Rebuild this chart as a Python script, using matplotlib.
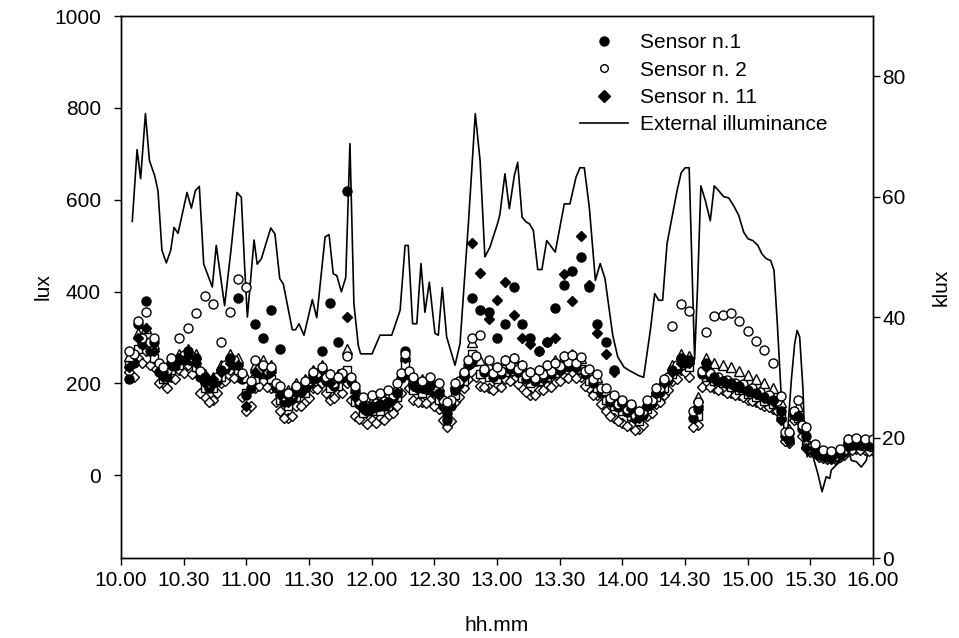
import matplotlib
matplotlib.use("Agg")
import matplotlib.pyplot as plt
from matplotlib.lines import Line2D

plt.rcParams["font.family"] = ["Liberation Sans", "DejaVu Sans"]

# ── data ─────────────────────────────────────────────────────────────────────
# sensor sampling times, minutes after 10.00 (two interleaved logger grids)
minutes = list(range(4, 364, 4))
minutes_b = list(range(6, 362, 4))

sensor_1 = [210, 330, 380, 290, 225, 240, 250, 270, 255, 215, 200, 230, 255, 385, 175, 330,
            300, 360, 275, 175, 185, 190, 210, 270, 375, 290, 618, 185, 150, 150, 155, 160,
            180, 270, 205, 195, 195, 180, 120, 185, 220, 385, 360, 355, 300, 330, 410, 330,
            300, 270, 290, 365, 415, 445, 475, 410, 330, 290, 230, 160, 150, 135, 150, 180,
            205, 230, 255, 250, 145, 245, 215, 205, 200, 195, 185, 180, 170, 165, 140, 80,
            130, 85, 55, 45, 42, 48, 70, 68, 72, 66]

sensor_2 = [270, 335, 355, 300, 235, 255, 300, 321, 354, 390, 372, 290, 356, 427, 409, 250,
            240, 235, 195, 180, 195, 205, 225, 235, 220, 215, 260, 195, 170, 175, 180, 185,
            200, 265, 215, 205, 215, 200, 160, 200, 225, 300, 305, 250, 235, 250, 255, 240,
            225, 230, 240, 245, 260, 262, 258, 232, 220, 190, 175, 165, 155, 140, 165, 190,
            210, 325, 374, 358, 160, 312, 347, 350, 354, 336, 314, 293, 272, 245, 172, 95,
            165, 105, 68, 55, 52, 58, 80, 82, 80, 78]

sensor_11 = [235, 300, 320, 270, 215, 240, 255, 260, 245, 200, 210, 225, 245, 240, 150, 225,
             235, 225, 175, 160, 180, 190, 210, 230, 200, 210, 345, 170, 145, 145, 150, 155,
             180, 255, 195, 190, 195, 175, 135, 185, 215, 505, 440, 340, 382, 421, 348, 300,
             285, 270, 290, 300, 439, 380, 520, 414, 310, 265, 225, 155, 145, 125, 150, 180,
             200, 225, 245, 245, 150, 235, 210, 205, 198, 190, 182, 178, 168, 162, 120, 75,
             130, 60, 50, 42, 38, 44, 62, 66, 68, 64]

# other sensors drawn without a legend entry
sensor_od = [225, 255, 270, 235, 200, 215, 230, 240, 225, 170, 165, 200, 230, 215, 140, 190,
             205, 190, 140, 125, 150, 160, 190, 200, 165, 180, 200, 130, 120, 120, 125, 130,
             150, 220, 165, 160, 165, 145, 105, 160, 190, 245, 195, 190, 195, 210, 210, 190,
             175, 185, 195, 200, 215, 220, 215, 190, 175, 140, 125, 115, 110, 100, 130, 155,
             175, 205, 230, 215, 110, 200, 190, 185, 180, 175, 165, 160, 150, 145, 125, 70,
             120, 60, 48, 38, 35, 40, 55, 58, 55, 52]

sensor_tri = [260, 310, 320, 285, 235, 255, 265, 275, 265, 220, 215, 240, 265, 255, 215, 240,
              250, 240, 195, 185, 200, 210, 230, 240, 220, 220, 275, 190, 160, 165, 170, 175,
              195, 260, 210, 210, 210, 195, 160, 200, 225, 290, 250, 240, 235, 250, 255, 240,
              225, 230, 240, 250, 260, 265, 255, 230, 215, 185, 170, 160, 150, 140, 160, 190,
              210, 240, 265, 260, 170, 255, 245, 240, 235, 228, 218, 210, 200, 190, 160, 100,
              150, 70, 62, 52, 48, 52, 78, 76, 75, 72]

sensor_sq = [240, 275, 285, 255, 210, 230, 240, 250, 235, 190, 190, 215, 240, 230, 180, 210,
             220, 210, 165, 150, 170, 180, 205, 215, 190, 195, 230, 160, 135, 140, 140, 150,
             170, 240, 185, 180, 185, 165, 130, 175, 205, 265, 220, 215, 210, 225, 228, 212,
             200, 205, 215, 222, 235, 238, 232, 205, 190, 165, 150, 140, 130, 118, 145, 170,
             190, 220, 240, 235, 130, 215, 205, 200, 192, 185, 178, 170, 162, 155, 135, 80,
             125, 65, 52, 44, 40, 46, 65, 68, 64, 62]

sensor_oc = [265, 300, 290, 245, 230, 250, 262, 258, 228, 200,
             215, 240, 250, 222, 205, 232, 230, 200, 172, 178,
             192, 205, 222, 215, 202, 222, 215, 162, 152, 158,
             162, 175, 222, 228, 198, 198, 192, 165, 165, 205,
             250, 260, 232, 222, 228, 240, 232, 218, 212, 220,
             228, 238, 246, 244, 228, 210, 190, 168, 155, 145,
             132, 140, 165, 190, 215, 240, 252, 140, 228, 222,
             214, 208, 202, 198, 190, 182, 174, 162, 95, 140,
             110, 60, 50, 44, 43, 55, 72, 70, 70]

sensor_fc = [245, 285, 270, 225, 215, 238, 250, 248, 215, 190,
             205, 232, 240, 210, 190, 222, 220, 190, 160, 168,
             182, 198, 215, 205, 195, 212, 205, 155, 140, 148,
             152, 168, 212, 218, 190, 188, 182, 152, 150, 198,
             240, 248, 225, 215, 220, 232, 225, 210, 205, 212,
             220, 230, 238, 236, 220, 200, 180, 160, 148, 138,
             125, 132, 158, 182, 208, 232, 245, 125, 220, 215,
             206, 200, 195, 190, 182, 175, 166, 155, 85, 132,
             100, 55, 45, 40, 40, 50, 66, 66, 66]

sensor_od2 = [215, 245, 240, 200, 190, 210, 222, 220, 180, 160,
              180, 205, 212, 170, 150, 195, 192, 160, 125, 130,
              150, 168, 188, 180, 168, 180, 165, 122, 112, 115,
              120, 135, 180, 190, 160, 158, 150, 120, 118, 170,
              210, 215, 192, 185, 192, 205, 198, 182, 175, 185,
              192, 205, 212, 212, 195, 175, 155, 130, 118, 108,
              98, 110, 135, 160, 185, 210, 225, 105, 192, 192,
              185, 180, 175, 170, 162, 155, 148, 140, 75, 120,
              85, 50, 40, 36, 36, 45, 56, 56, 54]

# external illuminance (klux), vertex times in minutes after 10.00
ext_minutes = [5.4, 7.7, 9.4, 11.7, 13.6, 16.1, 17.7, 19.6, 21.7, 23.8, 25.4, 27.3, 31.6, 33.7,
               35.6, 37.5, 39.6, 43.7, 45.6, 49.6, 52.8, 55.5, 57.6, 59.2, 60.5, 63.7, 65.2,
               67.2, 71.7, 73.7, 76.0, 77.7, 82.0, 83.6, 85.2, 87.6, 91.6, 93.7, 97.7, 99.6,
               101.6, 103.3, 105.5, 107.6, 109.6, 111.5, 113.6, 114.7, 120.2, 124.0, 129.6,
               133.6, 136.0, 137.5, 139.6, 141.6, 143.6, 145.5, 147.6, 150.3, 151.9, 153.8,
               155.9, 159.9, 162.3, 166.3, 169.6, 171.9, 174.2, 176.6, 180.5, 181.4, 183.8,
               185.9, 188.3, 189.9, 192.0, 193.9, 195.5, 197.4, 199.5, 201.5, 203.8, 207.9,
               212.2, 214.9, 217.8, 219.7, 221.8, 224.2, 227.1, 229.4, 231.7, 235.4, 237.8,
               240.8, 243.0, 247.8, 250.2, 253.4, 255.5, 257.4, 259.3, 261.4, 263.8, 266.2,
               268.2, 270.1, 272.0, 274.6, 276.0, 277.6, 279.7, 282.1, 284.0, 286.1, 288.5,
               290.9, 293.3, 295.7, 298.1, 300.2, 302.5, 304.9, 306.8, 308.9, 311.0, 312.6,
               314.2, 316.1, 317.7, 319.3, 320.9, 322.5, 323.7, 324.9, 326.5, 327.3, 328.5,
               330.4, 333.6, 335.6, 337.6, 339.3, 340.0, 343.2, 345.3, 347.2, 349.6, 352.0,
               354.4, 356.8, 358.4, 359.5]
ext_klux = [55.9, 67.8, 63.0, 73.8, 66.0, 63.5, 61.0, 51.1, 49.0, 51.1, 54.9, 53.9, 60.7, 58.1,
            61.0, 61.7, 48.8, 45.0, 51.9, 41.9, 51.6, 60.7, 59.9, 48.3, 40.0, 52.8, 48.8,
            49.7, 54.8, 53.8, 46.4, 45.5, 37.9, 37.9, 38.9, 37.0, 42.9, 39.9, 53.3, 53.7,
            47.2, 46.9, 44.2, 46.6, 68.8, 42.2, 35.3, 33.9, 33.9, 37.0, 37.0,
            41.1, 51.9, 51.9, 38.9, 38.9, 48.9, 40.8, 45.8, 37.3, 37.0, 44.9,
            36.7, 32.0, 35.6, 55.5, 73.8, 66.0, 50.0, 51.6, 55.8, 57.1, 63.8,
            58.0, 63.5, 65.7, 56.6, 55.8, 55.5, 54.4, 47.9, 47.9, 52.7, 50.8,
            58.8, 58.8, 63.2, 64.8, 64.8, 58.2, 46.1, 48.9, 46.4, 37.0, 33.4,
            31.7, 31.2, 30.3, 30.0, 37.8, 43.9, 42.8, 42.8, 52.2, 56.6, 61.0,
            64.0, 64.8, 64.8, 33.0, 45.0, 61.8, 59.4, 56.0, 61.8, 61.0, 60.0,
            59.8, 58.5, 56.9, 54.1, 53.0, 52.7, 51.9, 50.5, 49.7, 49.4, 47.8,
            38.9, 26.7, 20.1, 21.8, 29.5, 35.6, 37.8, 36.7, 27.9, 19.6, 16.8,
            17.9, 14.0, 11.0, 13.5, 13.2, 14.6, 15.7, 16.2, 19.6, 16.2, 16.0,
            15.1, 16.2, 19.0, 19.3]

tick_minutes = list(range(0, 390, 30))
tick_labels = ["10.00", "10.30", "11.00", "11.30", "12.00", "12.30", "13.00",
               "13.30", "14.00", "14.30", "15.00", "15.30", "16.00"]

# ── plot ─────────────────────────────────────────────────────────────────────
fig = plt.figure(figsize=(9.59, 6.38), dpi=100)
ax = fig.add_axes([121 / 959, 80 / 638, 752 / 959, 542 / 638])
ax2 = ax.twinx()
ax.set_zorder(ax2.get_zorder() + 1)
ax.patch.set_visible(False)

ms = 6.5
mk = dict(ls="none", mec="black", mew=1.0)
ax.plot(minutes, sensor_od, marker="D", ms=ms - 1, mfc="white", **mk)
ax.plot(minutes_b, sensor_od2, marker="D", ms=ms - 1, mfc="white", **mk)
ax.plot(minutes, sensor_sq, marker="s", ms=ms - 1, mfc="white", **mk)
ax.plot(minutes_b, sensor_fc, marker="o", ms=ms, mfc="black", **mk)
ax.plot(minutes, sensor_tri, marker="^", ms=ms, mfc="white", **mk)
ax.plot(minutes_b, sensor_oc, marker="o", ms=ms, mfc="white", **mk)
ax.plot(minutes, sensor_11, marker="D", ms=ms - 1, mfc="black", **mk)
ax.plot(minutes, sensor_1, marker="o", ms=ms, mfc="black", **mk)
ax.plot(minutes, sensor_2, marker="o", ms=ms, mfc="white", **mk)

ax2.plot(ext_minutes, ext_klux, color="black", lw=1.2)

ax.set_xlim(0, 360)
ax.set_ylim(-180, 1000)
ax2.set_ylim(0, 90)

ax.set_xticks(tick_minutes)
ax.set_xticklabels(tick_labels)
ax.set_yticks(range(0, 1001, 200))
ax2.set_yticks(range(0, 81, 20))

for a in (ax, ax2):
    a.tick_params(direction="out", length=5, width=1, labelsize=15)
    for s in a.spines.values():
        s.set_linewidth(1.0)
ax.tick_params(axis="y", pad=9.5)
ax.tick_params(axis="x", pad=4)
ax2.tick_params(axis="y", pad=1.5)

ax.set_xlabel("hh.mm", fontsize=15, labelpad=19)
ax.set_ylabel("lux", fontsize=15, labelpad=1)
ax2.set_ylabel("klux", fontsize=15, labelpad=19)

handles = [
    Line2D([], [], ls="none", marker="o", ms=6.5, mfc="black", mec="black"),
    Line2D([], [], ls="none", marker="o", ms=5.5, mfc="white", mec="black", mew=1.0),
    Line2D([], [], ls="none", marker="D", ms=6, mfc="black", mec="black"),
    Line2D([], [], color="black", lw=1.2),
]
labels = ["Sensor n.1", "Sensor n. 2", "Sensor n. 11", "External illuminance"]
ax.legend(handles, labels, loc="upper left", bbox_to_anchor=(0.61, 0.968), frameon=False,
          borderpad=0, borderaxespad=0, fontsize=15, handlelength=2.3,
          handletextpad=0.58, labelspacing=0.4)

fig.savefig("out.png", dpi=100)
